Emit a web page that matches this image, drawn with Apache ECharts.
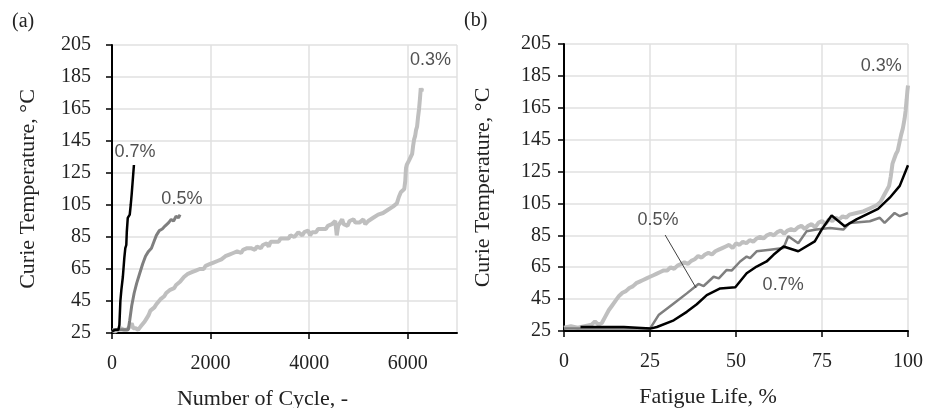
<!DOCTYPE html>
<html>
<head>
<meta charset="utf-8">
<script src="https://cdn.jsdelivr.net/npm/echarts@6/dist/echarts.min.js"></script>
<style>
  html, body { margin: 0; padding: 0; background: #fff; }
  #chart { width: 929px; height: 408px; }
</style>
</head>
<body>
<div id="chart"></div>
<script>
// (a) Curie temperature vs number of cycles  [cycles, degC]
var cyc03 = [[0,27],[60,26],[120,27],[180,28],[240,27],[300,27],[360,29],[400,31],[430,28],[480,28],[530,27],[580,29],[620,30],[660,32],[700,34],[740,36],[780,39],[820,40],[860,41],[900,43],[940,44],[980,46],[1020,47],[1060,48],[1100,50],[1140,51],[1180,52],[1220,53],[1260,53],[1300,55],[1340,56],[1380,57],[1420,58],[1460,60],[1500,59],[1540,62],[1580,61],[1620,63],[1660,62],[1700,64],[1740,64],[1780,65],[1820,66],[1860,65],[1900,67],[1940,67],[1980,68],[2020,67],[2060,69],[2100,68],[2140,70],[2180,69],[2220,71],[2260,72],[2300,73],[2340,72],[2380,74],[2420,74],[2460,75],[2500,74],[2540,76],[2580,76],[2620,75],[2660,77],[2700,77],[2740,78],[2780,77],[2820,78],[2860,79],[2900,77],[2940,79],[2980,80],[3020,78],[3060,80],[3100,80],[3140,81],[3180,79],[3220,82],[3260,81],[3300,82],[3340,83],[3380,82],[3420,84],[3460,83],[3500,84],[3540,85],[3580,84],[3620,86],[3660,87],[3700,85],[3740,86],[3780,88],[3820,87],[3860,86],[3900,88],[3940,87],[3980,89],[4020,86],[4060,88],[4100,89],[4140,88],[4180,90],[4220,89],[4260,90],[4300,91],[4340,90],[4380,92],[4420,91],[4460,93],[4500,92],[4530,95],[4560,86],[4590,92],[4630,94],[4670,96],[4700,93],[4740,94],[4780,92],[4820,95],[4860,94],[4900,96],[4940,94],[4980,95],[5020,94],[5060,95],[5100,96],[5140,93],[5200,95],[5300,97],[5400,99],[5500,100],[5600,102],[5700,104],[5780,106],[5820,110],[5860,113],[5900,113],[5930,115],[5950,120],[5965,128],[5980,130],[6000,131],[6030,133],[6060,134],[6090,137],[6110,142],[6130,146],[6150,148],[6170,152],[6190,154],[6210,160],[6230,165],[6250,172],[6265,178],[6280,176],[6290,178]];
var cyc05 = [[0,27],[150,27],[330,27],[360,33],[400,42],[450,50],[500,56],[560,62],[620,68],[680,73],[740,76],[800,78],[850,82],[900,86],[960,89],[1020,90],[1080,92],[1150,94],[1200,96],[1250,95],[1300,98],[1350,97],[1380,99]];
var cyc07 = [[0,26],[60,27],[130,27],[150,30],[170,45],[190,52],[220,60],[250,72],[270,78],[290,80],[300,88],[320,97],[340,97],[360,99],[380,105],[400,112],[420,120],[445,130]];

// (b) Curie temperature vs fatigue life  [%, degC]
var life03 = [[0,27],[2,28],[4,27],[6,28],[8,29],[9,31],[10,29],[11,30],[12,34],[13,38],[14,41],[15,44],[16,47],[17,49],[18,50],[19,52],[20,53],[21,55],[22,56],[23,57],[24,58],[25,59],[26,60],[27,61],[28,62],[29,63],[30,63],[31,65],[32,64],[33,66],[34,67],[35,68],[36,67],[37,69],[38,70],[39,72],[40,71],[41,73],[42,74],[43,73],[44,75],[45,76],[46,77],[47,78],[48,79],[49,77],[50,80],[51,79],[52,81],[53,80],[54,82],[55,81],[56,83],[57,84],[58,83],[59,85],[60,86],[61,85],[62,87],[63,88],[64,86],[65,88],[66,89],[67,88],[68,90],[69,91],[70,89],[71,91],[72,92],[73,90],[74,93],[75,94],[76,92],[77,95],[78,94],[79,96],[80,95],[81,97],[82,96],[83,98],[85,99],[87,100],[89,102],[91,104],[92,106],[93,110],[94,114],[94.5,116],[95,122],[95.5,130],[96,133],[96.5,136],[97,138],[97.5,143],[98,148],[98.5,152],[99,158],[99.3,163],[99.6,170],[99.8,175],[100,179]];
var life05 = [[0,26.5],[10,26.5],[20,26.5],[25,26.5],[27.5,35],[31.9,42.3],[35.7,48.6],[39.1,54.5],[40.6,53.2],[43.5,59],[45,58],[47.3,63.3],[48.8,63],[51.2,68.6],[53.1,71.7],[54.1,70.7],[56,75],[59.9,76],[63.8,77],[65.2,84.4],[68.1,80],[70.5,87.5],[73.4,88.6],[77.3,89.6],[81.2,88.6],[83.1,92.8],[88.9,93.8],[91.8,96],[93.2,92.8],[96.1,99],[97.6,97],[100,99]];
var life07 = [[4.8,27.5],[10.6,27.5],[17.4,27.5],[25.1,26.5],[27,27.5],[31.9,31.7],[35.7,37],[38.6,41.8],[41.5,47.5],[45.4,51.7],[49.8,52.4],[53.1,61.2],[56,65.4],[58.9,68.6],[60.9,72.8],[63.8,78],[68.1,75],[72.9,81.2],[74.9,88.6],[77.8,97.4],[81.6,90.7],[85,95],[91.3,101.6],[94.7,108.6],[97.6,116],[100,129]];

var labelsA = [{name:'0.7%', value:[466,138]}, {name:'0.5%', value:[1418,109]}, {name:'0.3%', value:[6464,195.5]}];
var labelsB = [{name:'0.3%', value:[92.2,191]}, {name:'0.5%', value:[27.3,94.6]}, {name:'0.7%', value:[63.7,53.9]}];
var leader05 = [[29.4,85.2],[38.4,52]];

var serif = 'Liberation Serif';
var chart = echarts.init(document.getElementById('chart'));

function plain(v) { return String(v); }

function xAx(idx, max, interval, name, pad) {
    return {
        type: 'value', gridIndex: idx, min: 0, max: max, interval: interval,
        name: name, nameLocation: 'middle', nameGap: 55,
        nameTextStyle: { fontFamily: serif, fontSize: 22, color: '#222', padding: pad },
        axisLine: { lineStyle: { color: '#000', width: 2 } },
        axisTick: { show: true, length: 6, lineStyle: { color: '#000', width: 1.5 } },
        axisLabel: { fontFamily: serif, fontSize: 20, color: '#222', margin: 21, formatter: plain, showMaxLabel: idx === 1 },
        splitLine: { show: true, lineStyle: { color: '#e0e0e0', width: 1.5 } }
    };
}
function yAx(idx, gap, margin) {
    return {
        type: 'value', gridIndex: idx, min: 25, max: 205, interval: 20,
        name: 'Curie Temperature, °C', nameLocation: 'middle', nameGap: gap,
        nameTextStyle: { fontFamily: serif, fontSize: 22, color: '#222' },
        axisLine: { show: true, lineStyle: { color: '#000', width: 2 } },
        axisTick: { show: true, length: 6, lineStyle: { color: '#000', width: 1.5 } },
        axisLabel: { fontFamily: serif, fontSize: 20, color: '#222', margin: margin, formatter: plain },
        splitLine: { show: true, lineStyle: { color: '#e0e0e0', width: 1.5 } }
    };
}
function ln(idx, data, color, width) {
    return { type: 'line', xAxisIndex: idx, yAxisIndex: idx, data: data, showSymbol: false,
             lineStyle: { color: color, width: width }, silent: true };
}
function lbl(idx, data) {
    return { type: 'scatter', xAxisIndex: idx, yAxisIndex: idx, data: data, symbolSize: 0, silent: true,
             label: { show: true, position: 'inside', formatter: '{b}',
                      fontFamily: 'Liberation Sans', fontSize: 18, color: '#262626' } };
}

var option = {
    animation: false,
    backgroundColor: '#fff',
    graphic: [
        { type: 'text', left: 12, top: 12, style: { text: '(a)', font: '20px "Liberation Serif"', fill: '#222' } },
        { type: 'text', left: 464, top: 11, style: { text: '(b)', font: '20px "Liberation Serif"', fill: '#222' } }
    ],
    grid: [
        { left: 112, top: 45, width: 345, height: 288, outerBoundsMode: 'none', containLabel: false },
        { left: 564, top: 44, width: 344, height: 287, outerBoundsMode: 'none', containLabel: false }
    ],
    xAxis: [ xAx(0, 7000, 2000, 'Number of Cycle, -', [0, 44, 0, 0]),
             xAx(1, 100, 25, 'Fatigue Life, %', [0, 56, 0, 0]) ],
    yAxis: [ yAx(0, 73, 21), yAx(1, 70, 13) ],
    series: [
        ln(0, cyc03, '#bfbfbf', 4),
        ln(0, cyc05, '#7f7f7f', 3),
        ln(0, cyc07, '#000000', 2.5),
        ln(1, life03, '#bfbfbf', 4),
        ln(1, life05, '#7f7f7f', 2.5),
        ln(1, life07, '#000000', 2.5),
        ln(1, leader05, '#404040', 1),
        lbl(0, labelsA),
        lbl(1, labelsB)
    ]
};
chart.setOption(option);
</script>
</body>
</html>
